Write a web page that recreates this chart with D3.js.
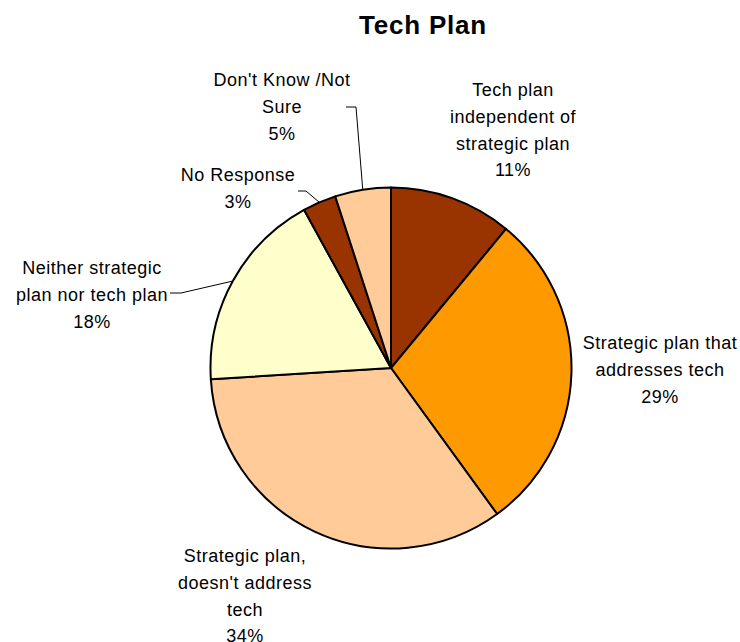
<!DOCTYPE html>
<html>
<head>
<meta charset="utf-8">
<script src="https://cdn.jsdelivr.net/npm/d3@7"></script>
<style>
  html, body { margin: 0; padding: 0; background: #fff; }
  svg { display: block; }
  text { font-family: Arial, "Liberation Sans", sans-serif; fill: #000; }
</style>
</head>
<body>
<svg id="chart" width="740" height="642"></svg>
<script>
// Survey responses: what kind of technology plan each school has
const categories = [
  "Tech plan independent of strategic plan",
  "Strategic plan that addresses tech",
  "Strategic plan, doesn't address tech",
  "Neither strategic plan nor tech plan",
  "No Response",
  "Don't Know /Not Sure"
];
const values = [11, 29, 34, 18, 3, 5];
const labelLines = [
  ["Tech plan", "independent of", "strategic plan"],
  ["Strategic plan that", "addresses tech"],
  ["Strategic plan,", "doesn't address", "tech"],
  ["Neither strategic", "plan nor tech plan"],
  ["No Response"],
  ["Don't Know /Not", "Sure"]
];
const colors = ["#993300", "#FF9900", "#FFCC99", "#FFFFCC", "#993300", "#FFCC99"];

const svg = d3.select("#chart");
const cx = 391, cy = 368, r = 180.5;

svg.append("text")
  .attr("x", 423).attr("y", 34)
  .attr("text-anchor", "middle")
  .style("font-size", "26px").style("font-weight", "bold")
  .style("letter-spacing", "0.8px")
  .text("Tech Plan");

const pie = d3.pie().sort(null).value(d => d)
  .startAngle(0).endAngle(2 * Math.PI);
const arcs = pie(values);
const arc = d3.arc().innerRadius(0).outerRadius(r);

const g = svg.append("g").attr("transform", `translate(${cx},${cy})`);
g.selectAll("path.slice")
  .data(arcs)
  .join("path")
  .attr("class", "slice")
  .attr("d", arc)
  .attr("fill", (d, i) => colors[i])
  .attr("stroke", "#000")
  .attr("stroke-width", 2)
  .attr("stroke-linejoin", "round");

// Label block placement: centre x and y of the first line (relative to page)
const labelPos = [
  { x: 513, y: 90 },
  { x: 660, y: 343 },
  { x: 245, y: 556 },
  { x: 92,  y: 268 },
  { x: 238, y: 175 },
  { x: 282, y: 80 }
];
const lineGap = 26.7;

labelPos.forEach((p, i) => {
  const lines = labelLines[i].concat([values[i] + "%"]);
  const t = svg.append("text")
    .attr("text-anchor", "middle")
    .style("font-size", "18px")
    .style("letter-spacing", "0.5px");
  lines.forEach((s, k) => {
    t.append("tspan")
      .attr("x", p.x)
      .attr("y", p.y + k * lineGap)
      .attr("dy", "0.35em")
      .text(s);
  });
});

// Leader lines for the slices whose labels sit away from them
function edgePoint(d) {
  const a = (d.startAngle + d.endAngle) / 2;
  return [cx + r * Math.sin(a), cy - r * Math.cos(a)];
}
const leaders = [
  { i: 5, start: [346, 107], elbow: [356, 107] },
  { i: 4, start: [298, 191], elbow: [306, 191] },
  { i: 3, start: [170, 293], elbow: [181, 293] }
];
leaders.forEach(l => {
  const e = edgePoint(arcs[l.i]);
  svg.append("path")
    .attr("d", d3.line()([l.start, l.elbow, e]))
    .attr("fill", "none")
    .attr("stroke", "#000")
    .attr("stroke-width", 1);
});
</script>
</body>
</html>
